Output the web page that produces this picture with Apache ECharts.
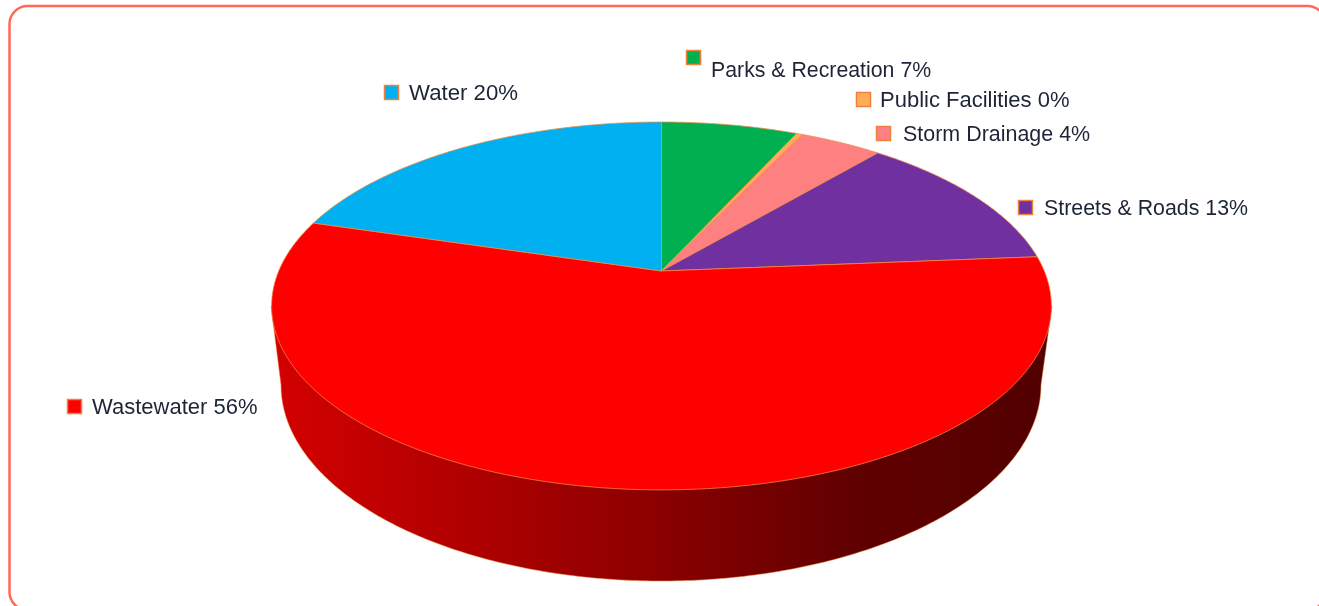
<!DOCTYPE html>
<html>
<head>
<meta charset="utf-8">
<style>html,body{margin:0;padding:0;background:#fff;overflow:hidden}#c{width:1319px;height:606px}</style>
<script src="https://cdn.jsdelivr.net/npm/echarts@6/dist/echarts.min.js"></script>
</head>
<body>
<div id="c"></div>
<script>
// Data (clockwise from 12 o'clock)
const categories = ['Parks & Recreation', 'Public Facilities', 'Storm Drainage', 'Streets & Roads', 'Wastewater', 'Water'];
const shares = [6.8, 0.3, 4.1, 12.5, 55.9, 20.4];
const colors = ['#00B050', '#FFAB57', '#FF8080', '#7030A0', '#FF0000', '#00B0F0'];

// Layout of the callouts: marker left/top, text left/middle, horizontal text scale
const callouts = [
  [686, 50, 711, 70.5, 0.968],
  [856, 92, 880, 100.5, 1.0],
  [876, 126, 903, 134.5, 0.975],
  [1018, 200, 1044, 208.5, 0.97],
  [67, 399, 92, 407.5, 1.0],
  [384, 85, 409, 93.5, 1.01]
];

// Perspective tilted disc
const apex = [661.5, 271], K = 0.19, A = 382.8, M = 177.3;
function project(theta) {
  const x = Math.sin(theta), y = Math.cos(theta), w = 1 + K * y;
  return [apex[0] + A * x / w, apex[1] - M * y / w];
}
const total = shares.reduce((a, b) => a + b, 0);

function renderSlice(params, api) {
  const i = params.dataIndex;
  let before = 0;
  for (let k = 0; k < i; k++) before += shares[k];
  const v = api.value(0);
  const a0 = before / total * Math.PI * 2, a1 = (before + v) / total * Math.PI * 2;
  const pts = [apex.slice()];
  const n = Math.max(2, Math.ceil((a1 - a0) / 0.01));
  for (let s = 0; s <= n; s++) pts.push(project(a0 + (a1 - a0) * s / n));
  const c = callouts[i];
  return {
    type: 'group',
    children: [
      { type: 'polygon', shape: { points: pts },
        style: { fill: colors[i], stroke: 'rgba(240,140,70,0.75)', lineWidth: 1 } },
      { type: 'rect', shape: { x: c[0] + 0.5, y: c[1] + 0.5, width: 14, height: 14 },
        style: { fill: colors[i], stroke: '#EE8040', lineWidth: 1.5 } },
      { type: 'text', x: c[2], y: c[3], scaleX: c[4],
        style: { text: categories[i] + ' ' + Math.round(v) + '%', fill: '#1c2436',
          font: '22px "Liberation Sans", Arial, sans-serif', textAlign: 'left', textVerticalAlign: 'middle' } }
    ]
  };
}

function renderWall() {
  const cx = 661, cy = 385, rx = 380, ry = 196;
  const pts = [[271, 306]];
  for (let s = 0; s <= 240; s++) {
    const t = Math.PI - Math.PI * s / 240;
    pts.push([cx + rx * Math.cos(t), cy + ry * Math.sin(t)]);
  }
  pts.push([1052, 306]);
  return {
    type: 'polygon', shape: { points: pts },
    style: {
      stroke: 'rgba(240,140,70,0.5)', lineWidth: 1,
      fill: { type: 'linear', x: 271, y: 0, x2: 1052, y2: 0, global: true,
        colorStops: [
          { offset: 0, color: '#D40000' },
          { offset: 0.28, color: '#AC0000' },
          { offset: 0.5, color: '#8A0000' },
          { offset: 0.75, color: '#600000' },
          { offset: 1, color: '#520000' }
        ] }
    }
  };
}

const chart = echarts.init(document.getElementById('c'), null, { renderer: 'canvas' });
chart.setOption({
  animation: false,
  backgroundColor: '#fff',
  graphic: [{
    type: 'rect', silent: true, z: 0,
    shape: { x: 9.5, y: 6, width: 1316, height: 604, r: 18 },
    style: { fill: '#fff', stroke: '#FF6A58', lineWidth: 2.5 }
  }],
  series: [
    { type: 'custom', coordinateSystem: 'none', silent: true, z: 2, data: [0], renderItem: renderWall },
    { type: 'custom', coordinateSystem: 'none', silent: true, z: 3,
      data: shares.map((v, i) => ({ name: categories[i], value: [v] })),
      renderItem: renderSlice }
  ]
});
</script>
</body>
</html>
